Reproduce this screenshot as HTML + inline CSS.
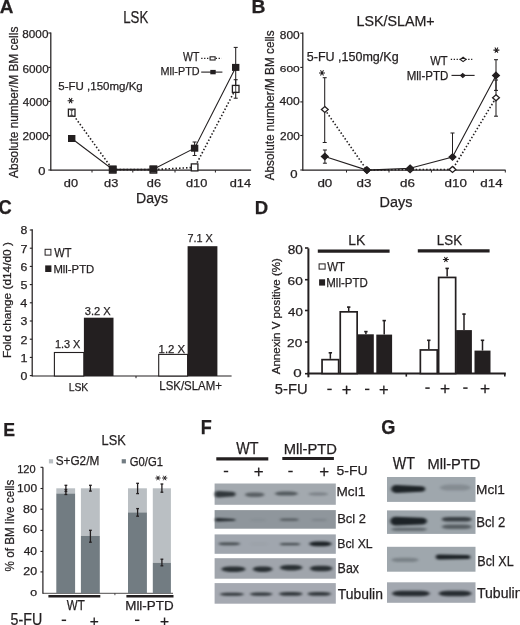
<!DOCTYPE html><html><head><meta charset="utf-8"><style>html,body{margin:0;padding:0;background:#fff;overflow:hidden}svg{display:block}text{font-family:"Liberation Sans",sans-serif;fill:#231f20;stroke:#231f20;stroke-width:0.25px}</style></head><body>
<svg width="520" height="625" viewBox="0 0 520 625">
<defs><filter id="b1" color-interpolation-filters="sRGB" x="-20%" y="-100%" width="140%" height="300%"><feGaussianBlur stdDeviation="1.5 0.95"/></filter><filter id="soft" color-interpolation-filters="sRGB" x="0" y="0" width="100%" height="100%"><feGaussianBlur stdDeviation="0.3"/></filter></defs>
<rect width="520" height="625" fill="#fff"/>
<g id="all" filter="url(#soft)">
<text x="-0.37" y="12.80" font-size="18.99" textLength="13.69" lengthAdjust="spacingAndGlyphs" font-weight="bold">A</text>
<text x="123.24" y="23.24" font-size="15.92" textLength="24.99" lengthAdjust="spacingAndGlyphs">LSK</text>
<line x1="50.8" y1="32.5" x2="50.8" y2="170.8" stroke="#231f20" stroke-width="1.25"/>
<line x1="48.3" y1="33" x2="50.8" y2="33" stroke="#231f20" stroke-width="1.1"/>
<line x1="48.3" y1="67.4" x2="50.8" y2="67.4" stroke="#231f20" stroke-width="1.1"/>
<line x1="48.3" y1="101.4" x2="50.8" y2="101.4" stroke="#231f20" stroke-width="1.1"/>
<line x1="48.3" y1="135.6" x2="50.8" y2="135.6" stroke="#231f20" stroke-width="1.1"/>
<line x1="48.3" y1="170" x2="50.8" y2="170" stroke="#231f20" stroke-width="1.1"/>
<text x="22.37" y="37.79" font-size="11.27" textLength="26.03" lengthAdjust="spacingAndGlyphs">8000</text>
<text x="22.51" y="72.78" font-size="11.55" textLength="26.20" lengthAdjust="spacingAndGlyphs">6000</text>
<text x="22.87" y="105.98" font-size="11.55" textLength="25.84" lengthAdjust="spacingAndGlyphs">4000</text>
<text x="22.51" y="140.38" font-size="11.55" textLength="26.20" lengthAdjust="spacingAndGlyphs">2000</text>
<text x="38.18" y="174.79" font-size="10.99" textLength="7.18" lengthAdjust="spacingAndGlyphs">0</text>
<text x="18.38" y="177.90" font-size="11.97" textLength="151.24" lengthAdjust="spacingAndGlyphs" transform="rotate(-90 18.38 177.90)">Absolute number/M BM cells</text>
<line x1="50.8" y1="170.2" x2="251.1" y2="170.2" stroke="#231f20" stroke-width="1.2"/>
<line x1="92" y1="170.2" x2="92" y2="172.5" stroke="#231f20" stroke-width="1"/>
<line x1="132.8" y1="170.2" x2="132.8" y2="172.5" stroke="#231f20" stroke-width="1"/>
<line x1="175" y1="170.2" x2="175" y2="172.5" stroke="#231f20" stroke-width="1"/>
<line x1="215.4" y1="170.2" x2="215.4" y2="172.5" stroke="#231f20" stroke-width="1"/>
<text x="63.88" y="186.59" font-size="11.16" textLength="14.21" lengthAdjust="spacingAndGlyphs">d0</text>
<text x="104.11" y="186.59" font-size="11.16" textLength="14.21" lengthAdjust="spacingAndGlyphs">d3</text>
<text x="146.81" y="186.59" font-size="11.16" textLength="14.21" lengthAdjust="spacingAndGlyphs">d6</text>
<text x="186.03" y="186.59" font-size="11.16" textLength="21.32" lengthAdjust="spacingAndGlyphs">d10</text>
<text x="229.70" y="186.59" font-size="11.16" textLength="21.32" lengthAdjust="spacingAndGlyphs">d14</text>
<text x="136.07" y="203.00" font-size="14.93" textLength="32.10" lengthAdjust="spacingAndGlyphs">Days</text>
<text x="58.24" y="89.90" font-size="11.31" textLength="84.53" lengthAdjust="spacingAndGlyphs">5-FU ,150mg/Kg</text>
<path d="M71.7,112.7 L112.7,169.6 L153.4,169.6 L194.6,167.4 L235.7,88.9" fill="none" stroke="#231f20" stroke-width="1.6" stroke-dasharray="1.5 2.0"/>
<path d="M71.7,138.5 L112.7,169.4 L153.4,169.2 L194.6,148.2 L235.7,67.4" fill="none" stroke="#231f20" stroke-width="1.1"/>
<line x1="235.7" y1="47.4" x2="235.7" y2="87.4" stroke="#231f20" stroke-width="1.05"/>
<line x1="233.7" y1="47.4" x2="237.7" y2="47.4" stroke="#231f20" stroke-width="1.05"/>
<line x1="233.7" y1="87.4" x2="237.7" y2="87.4" stroke="#231f20" stroke-width="1.05"/>
<line x1="235.7" y1="79.7" x2="235.7" y2="98.2" stroke="#231f20" stroke-width="1.05"/>
<line x1="233.7" y1="79.7" x2="237.7" y2="79.7" stroke="#231f20" stroke-width="1.05"/>
<line x1="233.7" y1="98.2" x2="237.7" y2="98.2" stroke="#231f20" stroke-width="1.05"/>
<line x1="194.6" y1="142" x2="194.6" y2="155.5" stroke="#231f20" stroke-width="1.05"/>
<line x1="192.6" y1="142" x2="196.6" y2="142" stroke="#231f20" stroke-width="1.05"/>
<line x1="192.6" y1="155.5" x2="196.6" y2="155.5" stroke="#231f20" stroke-width="1.05"/>
<rect x="68.40" y="109.20" width="6.60" height="7.00" fill="#fff" stroke="#231f20" stroke-width="1.3"/>
<rect x="109.40" y="166.10" width="6.60" height="7.00" fill="#fff" stroke="#231f20" stroke-width="1.3"/>
<rect x="150.10" y="166.10" width="6.60" height="7.00" fill="#fff" stroke="#231f20" stroke-width="1.3"/>
<rect x="191.30" y="163.90" width="6.60" height="7.00" fill="#fff" stroke="#231f20" stroke-width="1.3"/>
<rect x="232.40" y="85.40" width="6.60" height="7.00" fill="#fff" stroke="#231f20" stroke-width="1.3"/>
<line x1="71.7" y1="110.3" x2="71.7" y2="115.3" stroke="#231f20" stroke-width="0.8"/>
<line x1="70.3" y1="110.3" x2="73.10000000000001" y2="110.3" stroke="#231f20" stroke-width="0.8"/>
<line x1="70.3" y1="115.3" x2="73.10000000000001" y2="115.3" stroke="#231f20" stroke-width="0.8"/>
<line x1="235.7" y1="85.5" x2="235.7" y2="92.3" stroke="#231f20" stroke-width="0.8"/>
<line x1="234.29999999999998" y1="85.5" x2="237.1" y2="85.5" stroke="#231f20" stroke-width="0.8"/>
<line x1="234.29999999999998" y1="92.3" x2="237.1" y2="92.3" stroke="#231f20" stroke-width="0.8"/>
<rect x="68.00" y="135.00" width="7.40" height="7.00" fill="#231f20"/>
<rect x="109.00" y="165.90" width="7.40" height="7.00" fill="#231f20"/>
<rect x="149.70" y="165.70" width="7.40" height="7.00" fill="#231f20"/>
<rect x="190.90" y="144.70" width="7.40" height="7.00" fill="#231f20"/>
<rect x="232.00" y="63.90" width="7.40" height="7.00" fill="#231f20"/>
<path d="M67.60,100.70 L73.60,100.70 M69.10,98.10 L72.10,103.30 M72.10,98.10 L69.10,103.30 " fill="none" stroke="#231f20" stroke-width="1.05"/>
<text x="183.05" y="61.00" font-size="12.17" textLength="16.26" lengthAdjust="spacingAndGlyphs">WT</text>
<text x="160.53" y="74.90" font-size="11.59" textLength="39.06" lengthAdjust="spacingAndGlyphs">Mll-PTD</text>
<line x1="201.2" y1="58.3" x2="221.6" y2="58.3" stroke="#231f20" stroke-width="1.3" stroke-dasharray="1.3 1.6"/>
<rect x="210.10" y="56.80" width="5.00" height="3.20" fill="#fff" stroke="#231f20" stroke-width="1.1"/>
<line x1="201.2" y1="72.1" x2="222.4" y2="72.1" stroke="#231f20" stroke-width="1.1"/>
<rect x="210.30" y="69.90" width="5.40" height="4.40" fill="#231f20"/>
<text x="251.54" y="13.40" font-size="17.83" textLength="13.97" lengthAdjust="spacingAndGlyphs" font-weight="bold">B</text>
<text x="356.56" y="25.74" font-size="15.51" textLength="78.16" lengthAdjust="spacingAndGlyphs">LSK/SLAM+</text>
<line x1="302.8" y1="32.5" x2="302.8" y2="170.8" stroke="#231f20" stroke-width="1.25"/>
<line x1="300.3" y1="33.2" x2="302.8" y2="33.2" stroke="#231f20" stroke-width="1.1"/>
<line x1="300.3" y1="67.4" x2="302.8" y2="67.4" stroke="#231f20" stroke-width="1.1"/>
<line x1="300.3" y1="101.9" x2="302.8" y2="101.9" stroke="#231f20" stroke-width="1.1"/>
<line x1="300.3" y1="135.5" x2="302.8" y2="135.5" stroke="#231f20" stroke-width="1.1"/>
<line x1="300.3" y1="170" x2="302.8" y2="170" stroke="#231f20" stroke-width="1.1"/>
<text x="279.86" y="39.29" font-size="10.85" textLength="19.90" lengthAdjust="spacingAndGlyphs">800</text>
<text x="279.80" y="71.90" font-size="9.86" textLength="19.96" lengthAdjust="spacingAndGlyphs">600</text>
<text x="279.56" y="105.29" font-size="10.85" textLength="20.21" lengthAdjust="spacingAndGlyphs">400</text>
<text x="280.11" y="139.89" font-size="10.85" textLength="19.64" lengthAdjust="spacingAndGlyphs">200</text>
<text x="290.38" y="177.59" font-size="10.99" textLength="7.30" lengthAdjust="spacingAndGlyphs">0</text>
<text x="273.87" y="180.30" font-size="12.65" textLength="149.94" lengthAdjust="spacingAndGlyphs" transform="rotate(-90 273.87 180.30)">Absolute number/M BM cells</text>
<line x1="302.8" y1="170.2" x2="505.6" y2="170.2" stroke="#231f20" stroke-width="1.2"/>
<line x1="346.5" y1="170.2" x2="346.5" y2="172.5" stroke="#231f20" stroke-width="1"/>
<line x1="389" y1="170.2" x2="389" y2="172.5" stroke="#231f20" stroke-width="1"/>
<line x1="431.4" y1="170.2" x2="431.4" y2="172.5" stroke="#231f20" stroke-width="1"/>
<line x1="473.5" y1="170.2" x2="473.5" y2="172.5" stroke="#231f20" stroke-width="1"/>
<line x1="505.3" y1="170.2" x2="505.3" y2="172.5" stroke="#231f20" stroke-width="1"/>
<text x="317.43" y="187.18" font-size="11.70" textLength="14.90" lengthAdjust="spacingAndGlyphs">d0</text>
<text x="356.56" y="187.18" font-size="11.70" textLength="14.90" lengthAdjust="spacingAndGlyphs">d3</text>
<text x="400.06" y="187.18" font-size="11.70" textLength="14.90" lengthAdjust="spacingAndGlyphs">d6</text>
<text x="444.61" y="187.18" font-size="11.70" textLength="22.36" lengthAdjust="spacingAndGlyphs">d10</text>
<text x="480.28" y="187.18" font-size="11.70" textLength="22.36" lengthAdjust="spacingAndGlyphs">d14</text>
<text x="379.55" y="207.40" font-size="15.22" textLength="32.83" lengthAdjust="spacingAndGlyphs">Days</text>
<text x="306.80" y="60.50" font-size="11.86" textLength="91.83" lengthAdjust="spacingAndGlyphs">5-FU ,150mg/Kg</text>
<path d="M324.8,109.5 L366.9,170.1 L410.1,169.6 L452.5,169.4 L496,97.8" fill="none" stroke="#231f20" stroke-width="1.6" stroke-dasharray="1.5 2.0"/>
<path d="M324.8,156.5 L366.9,170.1 L410.1,168.3 L452.5,157 L496,75.4" fill="none" stroke="#231f20" stroke-width="1.1"/>
<line x1="324.7" y1="77.7" x2="324.7" y2="142.5" stroke="#231f20" stroke-width="1.05"/>
<line x1="322.7" y1="77.7" x2="326.7" y2="77.7" stroke="#231f20" stroke-width="1.05"/>
<line x1="322.7" y1="142.5" x2="326.7" y2="142.5" stroke="#231f20" stroke-width="1.05"/>
<line x1="324.9" y1="150" x2="324.9" y2="163.2" stroke="#231f20" stroke-width="1.05"/>
<line x1="322.9" y1="150" x2="326.9" y2="150" stroke="#231f20" stroke-width="1.05"/>
<line x1="322.9" y1="163.2" x2="326.9" y2="163.2" stroke="#231f20" stroke-width="1.05"/>
<line x1="452.5" y1="133" x2="452.5" y2="157" stroke="#231f20" stroke-width="1.05"/>
<line x1="450.5" y1="133" x2="454.5" y2="133" stroke="#231f20" stroke-width="1.05"/>
<line x1="450.5" y1="157" x2="454.5" y2="157" stroke="#231f20" stroke-width="1.05"/>
<line x1="496" y1="59.7" x2="496" y2="90.4" stroke="#231f20" stroke-width="1.05"/>
<line x1="494.0" y1="59.7" x2="498.0" y2="59.7" stroke="#231f20" stroke-width="1.05"/>
<line x1="494.0" y1="90.4" x2="498.0" y2="90.4" stroke="#231f20" stroke-width="1.05"/>
<line x1="496" y1="80" x2="496" y2="116.2" stroke="#231f20" stroke-width="1.05"/>
<line x1="494.0" y1="80" x2="498.0" y2="80" stroke="#231f20" stroke-width="1.05"/>
<line x1="494.0" y1="116.2" x2="498.0" y2="116.2" stroke="#231f20" stroke-width="1.05"/>
<path d="M324.8,106.5 L328.2,109.5 L324.8,112.5 L321.40000000000003,109.5 Z" fill="#fff" stroke="#231f20" stroke-width="1.3"/>
<path d="M366.9,167.1 L370.29999999999995,170.1 L366.9,173.1 L363.5,170.1 Z" fill="#fff" stroke="#231f20" stroke-width="1.3"/>
<path d="M410.1,166.6 L413.5,169.6 L410.1,172.6 L406.70000000000005,169.6 Z" fill="#fff" stroke="#231f20" stroke-width="1.3"/>
<path d="M452.5,166.4 L455.9,169.4 L452.5,172.4 L449.1,169.4 Z" fill="#fff" stroke="#231f20" stroke-width="1.3"/>
<path d="M496,94.8 L499.4,97.8 L496,100.8 L492.6,97.8 Z" fill="#fff" stroke="#231f20" stroke-width="1.3"/>
<path d="M324.8,153.2 L328.3,156.5 L324.8,159.8 L321.3,156.5 Z" fill="#231f20" stroke="#231f20" stroke-width="1.1"/>
<path d="M366.9,166.79999999999998 L370.4,170.1 L366.9,173.4 L363.4,170.1 Z" fill="#231f20" stroke="#231f20" stroke-width="1.1"/>
<path d="M410.1,165.0 L413.6,168.3 L410.1,171.60000000000002 L406.6,168.3 Z" fill="#231f20" stroke="#231f20" stroke-width="1.1"/>
<path d="M452.5,153.7 L456.0,157 L452.5,160.3 L449.0,157 Z" fill="#231f20" stroke="#231f20" stroke-width="1.1"/>
<path d="M496,72.10000000000001 L499.5,75.4 L496,78.7 L492.5,75.4 Z" fill="#231f20" stroke="#231f20" stroke-width="1.1"/>
<path d="M319.00,72.90 L325.00,72.90 M320.50,70.30 L323.50,75.50 M323.50,70.30 L320.50,75.50 " fill="none" stroke="#231f20" stroke-width="1.05"/>
<path d="M493.40,50.10 L499.40,50.10 M494.90,47.50 L497.90,52.70 M497.90,47.50 L494.90,52.70 " fill="none" stroke="#231f20" stroke-width="1.05"/>
<text x="430.14" y="65.40" font-size="13.33" textLength="17.38" lengthAdjust="spacingAndGlyphs">WT</text>
<text x="406.68" y="80.20" font-size="11.86" textLength="41.65" lengthAdjust="spacingAndGlyphs">Mll-PTD</text>
<line x1="450.8" y1="59.4" x2="472.3" y2="59.4" stroke="#231f20" stroke-width="1.3" stroke-dasharray="1.3 1.6"/>
<path d="M463.1,57.199999999999996 L465.90000000000003,59.4 L463.1,61.6 L460.3,59.4 Z" fill="#fff" stroke="#231f20" stroke-width="1.2"/>
<line x1="451.5" y1="75.4" x2="474.6" y2="75.4" stroke="#231f20" stroke-width="1.1"/>
<path d="M462.8,73.6 L465.0,75.6 L462.8,77.6 L460.6,75.6 Z" fill="#231f20" stroke="#231f20" stroke-width="1.1"/>
<text x="-1.43" y="214.21" font-size="19.30" textLength="13.23" lengthAdjust="spacingAndGlyphs" font-weight="bold">C</text>
<line x1="32.2" y1="229.3" x2="32.2" y2="376.6" stroke="#231f20" stroke-width="1.25"/>
<line x1="29.8" y1="375.6" x2="32.2" y2="375.6" stroke="#231f20" stroke-width="1.1"/>
<text x="20.50" y="380.09" font-size="10.99" textLength="6.84" lengthAdjust="spacingAndGlyphs">0</text>
<line x1="29.8" y1="357.40000000000003" x2="32.2" y2="357.40000000000003" stroke="#231f20" stroke-width="1.1"/>
<text x="20.44" y="362.00" font-size="11.30" textLength="7.04" lengthAdjust="spacingAndGlyphs">1</text>
<line x1="29.8" y1="339.20000000000005" x2="32.2" y2="339.20000000000005" stroke="#231f20" stroke-width="1.1"/>
<text x="20.60" y="343.80" font-size="11.14" textLength="6.94" lengthAdjust="spacingAndGlyphs">2</text>
<line x1="29.8" y1="321.0" x2="32.2" y2="321.0" stroke="#231f20" stroke-width="1.1"/>
<text x="20.56" y="325.49" font-size="10.99" textLength="6.84" lengthAdjust="spacingAndGlyphs">3</text>
<line x1="29.8" y1="302.8" x2="32.2" y2="302.8" stroke="#231f20" stroke-width="1.1"/>
<text x="20.25" y="307.40" font-size="11.30" textLength="7.04" lengthAdjust="spacingAndGlyphs">4</text>
<line x1="29.8" y1="284.6" x2="32.2" y2="284.6" stroke="#231f20" stroke-width="1.1"/>
<text x="20.47" y="289.09" font-size="11.14" textLength="6.94" lengthAdjust="spacingAndGlyphs">5</text>
<line x1="29.8" y1="266.40000000000003" x2="32.2" y2="266.40000000000003" stroke="#231f20" stroke-width="1.1"/>
<text x="20.56" y="270.89" font-size="10.99" textLength="6.84" lengthAdjust="spacingAndGlyphs">6</text>
<line x1="29.8" y1="248.20000000000005" x2="32.2" y2="248.20000000000005" stroke="#231f20" stroke-width="1.1"/>
<text x="20.51" y="252.80" font-size="11.30" textLength="7.04" lengthAdjust="spacingAndGlyphs">7</text>
<line x1="29.8" y1="230.00000000000003" x2="32.2" y2="230.00000000000003" stroke="#231f20" stroke-width="1.1"/>
<text x="20.56" y="234.49" font-size="10.99" textLength="6.84" lengthAdjust="spacingAndGlyphs">8</text>
<text x="11.25" y="357.95" font-size="10.70" textLength="115.81" lengthAdjust="spacingAndGlyphs" transform="rotate(-90 11.25 357.95)">Fold change (d14/d0 )</text>
<line x1="32.2" y1="376" x2="231.6" y2="376" stroke="#231f20" stroke-width="1.2"/>
<line x1="136" y1="376" x2="136" y2="378.2" stroke="#231f20" stroke-width="1"/>
<rect x="54.40" y="352.50" width="29.40" height="23.50" fill="#fff" stroke="#231f20" stroke-width="1.1"/>
<rect x="83.90" y="317.70" width="29.60" height="58.30" fill="#231f20"/>
<rect x="158.70" y="354.40" width="28.90" height="21.60" fill="#fff" stroke="#231f20" stroke-width="1.1"/>
<rect x="187.60" y="246.20" width="29.80" height="129.80" fill="#231f20"/>
<text x="54.88" y="347.99" font-size="11.13" textLength="25.54" lengthAdjust="spacingAndGlyphs">1.3 X</text>
<text x="84.76" y="315.39" font-size="11.13" textLength="25.97" lengthAdjust="spacingAndGlyphs">3.2 X</text>
<text x="158.55" y="352.70" font-size="11.57" textLength="26.58" lengthAdjust="spacingAndGlyphs">1.2 X</text>
<text x="187.45" y="242.10" font-size="11.45" textLength="25.46" lengthAdjust="spacingAndGlyphs">7.1 X</text>
<text x="68.67" y="390.79" font-size="11.27" textLength="19.64" lengthAdjust="spacingAndGlyphs">LSK</text>
<text x="159.28" y="390.17" font-size="13.06" textLength="62.69" lengthAdjust="spacingAndGlyphs">LSK/SLAM+</text>
<rect x="45.10" y="249.30" width="5.80" height="5.80" fill="#fff" stroke="#231f20" stroke-width="1.0"/>
<text x="54.24" y="256.80" font-size="11.88" textLength="17.17" lengthAdjust="spacingAndGlyphs">WT</text>
<rect x="45.20" y="265.40" width="6.20" height="6.60" fill="#231f20"/>
<text x="53.40" y="273.00" font-size="11.45" textLength="40.82" lengthAdjust="spacingAndGlyphs">Mll-PTD</text>
<text x="254.80" y="214.10" font-size="18.70" textLength="13.39" lengthAdjust="spacingAndGlyphs" font-weight="bold">D</text>
<line x1="308.4" y1="248.4" x2="308.4" y2="377.3" stroke="#231f20" stroke-width="2"/>
<line x1="305" y1="248" x2="308.4" y2="248" stroke="#231f20" stroke-width="1.6"/>
<line x1="305" y1="279.7" x2="308.4" y2="279.7" stroke="#231f20" stroke-width="1.6"/>
<line x1="305" y1="310.5" x2="308.4" y2="310.5" stroke="#231f20" stroke-width="1.6"/>
<line x1="305" y1="342" x2="308.4" y2="342" stroke="#231f20" stroke-width="1.6"/>
<line x1="305" y1="373.7" x2="308.4" y2="373.7" stroke="#231f20" stroke-width="1.6"/>
<text x="287.69" y="254.08" font-size="11.97" textLength="15.12" lengthAdjust="spacingAndGlyphs">80</text>
<text x="287.62" y="284.89" font-size="11.13" textLength="15.19" lengthAdjust="spacingAndGlyphs">60</text>
<text x="288.03" y="315.79" font-size="10.85" textLength="14.76" lengthAdjust="spacingAndGlyphs">40</text>
<text x="287.12" y="346.98" font-size="11.83" textLength="15.08" lengthAdjust="spacingAndGlyphs">20</text>
<text x="293.19" y="377.18" font-size="11.83" textLength="8.46" lengthAdjust="spacingAndGlyphs">0</text>
<text x="280.50" y="374.30" font-size="11.44" textLength="116.15" lengthAdjust="spacingAndGlyphs" transform="rotate(-90 280.50 374.30)">Annexin V positive (%)</text>
<line x1="307.4" y1="373.5" x2="505.8" y2="373.5" stroke="#231f20" stroke-width="2"/>
<line x1="406.3" y1="373.5" x2="406.3" y2="376.6" stroke="#231f20" stroke-width="1.6"/>
<line x1="504.8" y1="373.5" x2="504.8" y2="376.6" stroke="#231f20" stroke-width="1.6"/>
<line x1="317.8" y1="251.1" x2="389.6" y2="251.1" stroke="#231f20" stroke-width="3.2"/>
<line x1="417.8" y1="250.9" x2="489.6" y2="250.9" stroke="#231f20" stroke-width="3.2"/>
<text x="348.18" y="245.10" font-size="14.93" textLength="17.10" lengthAdjust="spacingAndGlyphs">LK</text>
<text x="436.83" y="245.25" font-size="14.93" textLength="25.31" lengthAdjust="spacingAndGlyphs">LSK</text>
<line x1="330.35" y1="352.5" x2="330.35" y2="358.8" stroke="#231f20" stroke-width="1.5"/>
<line x1="328.65000000000003" y1="352.8" x2="332.05" y2="352.8" stroke="#231f20" stroke-width="1.6"/>
<rect x="322.05" y="359.65" width="16.60" height="13.85" fill="#fff" stroke="#231f20" stroke-width="1.7"/>
<line x1="348.7" y1="306.8" x2="348.7" y2="311" stroke="#231f20" stroke-width="1.5"/>
<line x1="347.0" y1="307.1" x2="350.4" y2="307.1" stroke="#231f20" stroke-width="1.6"/>
<rect x="340.25" y="311.85" width="16.90" height="61.65" fill="#fff" stroke="#231f20" stroke-width="1.7"/>
<line x1="365.9" y1="331.3" x2="365.9" y2="334.3" stroke="#231f20" stroke-width="1.5"/>
<line x1="364.2" y1="331.6" x2="367.59999999999997" y2="331.6" stroke="#231f20" stroke-width="1.6"/>
<rect x="358.00" y="334.30" width="15.80" height="39.20" fill="#231f20"/>
<line x1="384.20000000000005" y1="320.3" x2="384.20000000000005" y2="334.6" stroke="#231f20" stroke-width="1.5"/>
<line x1="382.50000000000006" y1="320.6" x2="385.90000000000003" y2="320.6" stroke="#231f20" stroke-width="1.6"/>
<rect x="376.30" y="334.60" width="15.80" height="38.90" fill="#231f20"/>
<line x1="428.8" y1="340" x2="428.8" y2="349.1" stroke="#231f20" stroke-width="1.5"/>
<line x1="427.1" y1="340.3" x2="430.5" y2="340.3" stroke="#231f20" stroke-width="1.6"/>
<rect x="420.35" y="349.95" width="16.90" height="23.55" fill="#fff" stroke="#231f20" stroke-width="1.7"/>
<line x1="447.15" y1="268.1" x2="447.15" y2="276.6" stroke="#231f20" stroke-width="1.5"/>
<line x1="445.45" y1="268.40000000000003" x2="448.84999999999997" y2="268.40000000000003" stroke="#231f20" stroke-width="1.6"/>
<rect x="438.65" y="277.45" width="17.00" height="96.05" fill="#fff" stroke="#231f20" stroke-width="1.7"/>
<line x1="464.0" y1="313.8" x2="464.0" y2="330.1" stroke="#231f20" stroke-width="1.5"/>
<line x1="462.3" y1="314.1" x2="465.7" y2="314.1" stroke="#231f20" stroke-width="1.6"/>
<rect x="456.10" y="330.10" width="15.80" height="43.40" fill="#231f20"/>
<line x1="482.5" y1="340" x2="482.5" y2="350.6" stroke="#231f20" stroke-width="1.5"/>
<line x1="480.8" y1="340.3" x2="484.2" y2="340.3" stroke="#231f20" stroke-width="1.6"/>
<rect x="474.50" y="350.60" width="16.00" height="22.90" fill="#231f20"/>
<path d="M442.90,259.50 L448.90,259.50 M444.40,256.90 L447.40,262.10 M447.40,256.90 L444.40,262.10 " fill="none" stroke="#231f20" stroke-width="1.05"/>
<rect x="319.10" y="263.90" width="6.00" height="5.20" fill="#fff" stroke="#231f20" stroke-width="1.0"/>
<text x="327.14" y="271.40" font-size="12.90" textLength="17.78" lengthAdjust="spacingAndGlyphs">WT</text>
<rect x="319.10" y="279.30" width="6.00" height="6.30" fill="#231f20"/>
<text x="326.28" y="286.90" font-size="12.14" textLength="41.44" lengthAdjust="spacingAndGlyphs">Mll-PTD</text>
<text x="274.81" y="394.45" font-size="14.57" textLength="32.73" lengthAdjust="spacingAndGlyphs">5-FU</text>
<rect x="327.30" y="388.65" width="4.40" height="1.50" fill="#231f20"/>
<text x="341.66" y="395.19" font-size="16.53" textLength="9.65" lengthAdjust="spacingAndGlyphs">+</text>
<rect x="365.00" y="388.65" width="4.40" height="1.50" fill="#231f20"/>
<text x="379.06" y="395.19" font-size="16.53" textLength="9.65" lengthAdjust="spacingAndGlyphs">+</text>
<rect x="425.30" y="387.35" width="4.40" height="1.50" fill="#231f20"/>
<text x="439.93" y="394.46" font-size="17.35" textLength="10.13" lengthAdjust="spacingAndGlyphs">+</text>
<rect x="463.20" y="387.35" width="4.40" height="1.50" fill="#231f20"/>
<text x="480.03" y="394.46" font-size="17.35" textLength="10.13" lengthAdjust="spacingAndGlyphs">+</text>
<text x="3.35" y="435.70" font-size="18.70" textLength="11.81" lengthAdjust="spacingAndGlyphs" font-weight="bold">E</text>
<text x="101.58" y="444.86" font-size="13.80" textLength="24.15" lengthAdjust="spacingAndGlyphs">LSK</text>
<rect x="48.90" y="459.20" width="4.20" height="4.20" fill="#babfc3"/>
<text x="55.67" y="465.27" font-size="12.52" textLength="43.58" lengthAdjust="spacingAndGlyphs">S+G2/M</text>
<rect x="121.70" y="459.20" width="4.20" height="4.20" fill="#727c82"/>
<text x="129.74" y="465.58" font-size="12.11" textLength="33.28" lengthAdjust="spacingAndGlyphs">G0/G1</text>
<line x1="42.9" y1="467.2" x2="42.9" y2="593.8" stroke="#231f20" stroke-width="1.2"/>
<line x1="40.5" y1="467.3" x2="42.9" y2="467.3" stroke="#231f20" stroke-width="1.1"/>
<line x1="40.5" y1="488.5" x2="42.9" y2="488.5" stroke="#231f20" stroke-width="1.1"/>
<line x1="40.5" y1="509.2" x2="42.9" y2="509.2" stroke="#231f20" stroke-width="1.1"/>
<line x1="40.5" y1="530.4" x2="42.9" y2="530.4" stroke="#231f20" stroke-width="1.1"/>
<line x1="40.5" y1="551.4" x2="42.9" y2="551.4" stroke="#231f20" stroke-width="1.1"/>
<line x1="40.5" y1="571.9" x2="42.9" y2="571.9" stroke="#231f20" stroke-width="1.1"/>
<text x="17.18" y="473.09" font-size="10.56" textLength="18.35" lengthAdjust="spacingAndGlyphs">120</text>
<text x="17.10" y="491.89" font-size="11.13" textLength="19.96" lengthAdjust="spacingAndGlyphs">100</text>
<text x="23.14" y="512.69" font-size="11.13" textLength="13.93" lengthAdjust="spacingAndGlyphs">80</text>
<text x="23.07" y="533.49" font-size="11.13" textLength="14.00" lengthAdjust="spacingAndGlyphs">60</text>
<text x="23.66" y="555.20" font-size="10.00" textLength="13.39" lengthAdjust="spacingAndGlyphs">40</text>
<text x="23.28" y="575.20" font-size="10.28" textLength="13.78" lengthAdjust="spacingAndGlyphs">20</text>
<text x="30.21" y="596.30" font-size="9.72" textLength="6.84" lengthAdjust="spacingAndGlyphs">0</text>
<text x="13.97" y="571.51" font-size="12.65" textLength="91.83" lengthAdjust="spacingAndGlyphs" transform="rotate(-90 13.97 571.51)">% of BM live cells</text>
<line x1="42.9" y1="593.3" x2="173" y2="593.3" stroke="#231f20" stroke-width="0.8"/>
<line x1="114.9" y1="593.3" x2="114.9" y2="595.2" stroke="#231f20" stroke-width="0.8"/>
<rect x="56.30" y="488.30" width="18.80" height="5.20" fill="#babfc3"/>
<rect x="56.30" y="493.50" width="18.80" height="99.80" fill="#727c82"/>
<rect x="80.90" y="488.30" width="18.90" height="47.60" fill="#babfc3"/>
<rect x="80.90" y="535.90" width="18.90" height="57.40" fill="#727c82"/>
<rect x="128.00" y="488.30" width="18.90" height="24.10" fill="#babfc3"/>
<rect x="128.00" y="512.40" width="18.90" height="80.90" fill="#727c82"/>
<rect x="152.80" y="488.30" width="18.10" height="74.50" fill="#babfc3"/>
<rect x="152.80" y="562.80" width="18.10" height="30.50" fill="#727c82"/>
<line x1="65.9" y1="485.3" x2="65.9" y2="491.5" stroke="#231f20" stroke-width="1.3"/>
<line x1="64.5" y1="485.3" x2="67.30000000000001" y2="485.3" stroke="#231f20" stroke-width="1.3"/>
<line x1="64.5" y1="491.5" x2="67.30000000000001" y2="491.5" stroke="#231f20" stroke-width="1.3"/>
<line x1="65.9" y1="489.5" x2="65.9" y2="494.5" stroke="#231f20" stroke-width="1.3"/>
<line x1="64.5" y1="489.5" x2="67.30000000000001" y2="489.5" stroke="#231f20" stroke-width="1.3"/>
<line x1="64.5" y1="494.5" x2="67.30000000000001" y2="494.5" stroke="#231f20" stroke-width="1.3"/>
<line x1="90.4" y1="485.3" x2="90.4" y2="491.1" stroke="#231f20" stroke-width="1.3"/>
<line x1="89.0" y1="485.3" x2="91.80000000000001" y2="485.3" stroke="#231f20" stroke-width="1.3"/>
<line x1="89.0" y1="491.1" x2="91.80000000000001" y2="491.1" stroke="#231f20" stroke-width="1.3"/>
<line x1="90.4" y1="530.3" x2="90.4" y2="542.2" stroke="#231f20" stroke-width="1.3"/>
<line x1="89.0" y1="530.3" x2="91.80000000000001" y2="530.3" stroke="#231f20" stroke-width="1.3"/>
<line x1="89.0" y1="542.2" x2="91.80000000000001" y2="542.2" stroke="#231f20" stroke-width="1.3"/>
<line x1="137.6" y1="483.3" x2="137.6" y2="493.6" stroke="#231f20" stroke-width="1.3"/>
<line x1="136.2" y1="483.3" x2="139.0" y2="483.3" stroke="#231f20" stroke-width="1.3"/>
<line x1="136.2" y1="493.6" x2="139.0" y2="493.6" stroke="#231f20" stroke-width="1.3"/>
<line x1="137.6" y1="508.6" x2="137.6" y2="516.2" stroke="#231f20" stroke-width="1.3"/>
<line x1="136.2" y1="508.6" x2="139.0" y2="508.6" stroke="#231f20" stroke-width="1.3"/>
<line x1="136.2" y1="516.2" x2="139.0" y2="516.2" stroke="#231f20" stroke-width="1.3"/>
<line x1="161.9" y1="484" x2="161.9" y2="492.2" stroke="#231f20" stroke-width="1.3"/>
<line x1="160.5" y1="484" x2="163.3" y2="484" stroke="#231f20" stroke-width="1.3"/>
<line x1="160.5" y1="492.2" x2="163.3" y2="492.2" stroke="#231f20" stroke-width="1.3"/>
<line x1="161.9" y1="559.2" x2="161.9" y2="565.8" stroke="#231f20" stroke-width="1.3"/>
<line x1="160.5" y1="559.2" x2="163.3" y2="559.2" stroke="#231f20" stroke-width="1.3"/>
<line x1="160.5" y1="565.8" x2="163.3" y2="565.8" stroke="#231f20" stroke-width="1.3"/>
<path d="M155.40,478.00 L160.60,478.00 M156.70,475.75 L159.30,480.25 M159.30,475.75 L156.70,480.25 " fill="none" stroke="#231f20" stroke-width="0.95"/>
<path d="M162.10,478.00 L167.30,478.00 M163.40,475.75 L166.00,480.25 M166.00,475.75 L163.40,480.25 " fill="none" stroke="#231f20" stroke-width="0.95"/>
<line x1="48.4" y1="596.3" x2="100.3" y2="596.3" stroke="#231f20" stroke-width="2.4"/>
<line x1="126.4" y1="596.3" x2="173.5" y2="596.3" stroke="#231f20" stroke-width="2.4"/>
<text x="66.74" y="609.60" font-size="13.91" textLength="17.99" lengthAdjust="spacingAndGlyphs">WT</text>
<text x="125.23" y="609.60" font-size="13.24" textLength="48.38" lengthAdjust="spacingAndGlyphs">Mll-PTD</text>
<text x="10.6" y="625.4" font-size="16.3" textLength="31.6" lengthAdjust="spacingAndGlyphs">5-FU</text>
<rect x="61.70" y="619.55" width="4.40" height="1.50" fill="#231f20"/>
<text x="89.66" y="625.70" font-size="15.51" textLength="9.06" lengthAdjust="spacingAndGlyphs">+</text>
<rect x="135.00" y="619.55" width="4.40" height="1.50" fill="#231f20"/>
<text x="159.96" y="625.70" font-size="15.51" textLength="9.06" lengthAdjust="spacingAndGlyphs">+</text>
<text x="200.63" y="434.10" font-size="19.42" textLength="11.02" lengthAdjust="spacingAndGlyphs" font-weight="bold">F</text>
<text x="236.13" y="454.40" font-size="15.65" textLength="22.25" lengthAdjust="spacingAndGlyphs">WT</text>
<text x="283.72" y="454.30" font-size="14.21" textLength="53.25" lengthAdjust="spacingAndGlyphs">Mll-PTD</text>
<line x1="216.3" y1="458.9" x2="268.3" y2="458.9" stroke="#231f20" stroke-width="3.2"/>
<line x1="282.3" y1="458.5" x2="333.9" y2="458.5" stroke="#231f20" stroke-width="3.2"/>
<rect x="223.80" y="470.75" width="4.40" height="1.50" fill="#231f20"/>
<text x="253.85" y="477.22" font-size="16.94" textLength="9.89" lengthAdjust="spacingAndGlyphs">+</text>
<rect x="288.30" y="470.75" width="4.40" height="1.50" fill="#231f20"/>
<text x="319.25" y="477.22" font-size="16.94" textLength="9.89" lengthAdjust="spacingAndGlyphs">+</text>
<text x="336.54" y="475.17" font-size="13.29" textLength="31.04" lengthAdjust="spacingAndGlyphs">5-FU</text>
<rect x="214.60" y="483.50" width="121.20" height="21.30" fill="#a3a9af"/>
<rect x="214.60" y="510.10" width="121.20" height="18.60" fill="#8f969c"/>
<rect x="214.60" y="534.40" width="121.20" height="19.40" fill="#a0a6ae"/>
<rect x="214.60" y="558.20" width="121.20" height="20.50" fill="#a0a5ac"/>
<rect x="214.60" y="583.10" width="121.20" height="20.60" fill="#a5a9b1"/>
<text x="336.51" y="495.97" font-size="13.33" textLength="28.72" lengthAdjust="spacingAndGlyphs">Mcl1</text>
<text x="337.16" y="523.47" font-size="13.33" textLength="28.83" lengthAdjust="spacingAndGlyphs">Bcl 2</text>
<text x="337.22" y="547.77" font-size="13.33" textLength="35.45" lengthAdjust="spacingAndGlyphs">Bcl XL</text>
<text x="337.61" y="572.56" font-size="14.00" textLength="21.40" lengthAdjust="spacingAndGlyphs">Bax</text>
<text x="337.82" y="598.96" font-size="13.88" textLength="45.12" lengthAdjust="spacingAndGlyphs">Tubulin</text>
<g filter="url(#b1)">
<path d="M218.50,490.90 L231.84,491.71 A3.66,2.44 0 0 1 231.84,496.59 L218.50,497.40 A3.90,3.25 0 0 1 218.50,490.90 Z" fill="#1d2327" fill-opacity="0.85"/>
<rect x="245.20" y="492.40" width="19.00" height="4.60" rx="6.33" ry="2.30" fill="#1d2327" fill-opacity="0.55"/>
<rect x="274.80" y="491.60" width="23.20" height="4.00" rx="7.73" ry="2.00" fill="#1d2327" fill-opacity="0.6"/>
<rect x="308.50" y="492.60" width="19.50" height="2.90" rx="5.80" ry="1.45" fill="#1d2327" fill-opacity="0.3"/>
<path d="M217.16,518.00 L234.05,518.90 A1.35,0.90 0 0 1 234.05,520.70 L217.16,521.60 A2.16,1.80 0 0 1 217.16,518.00 Z" fill="#1d2327" fill-opacity="0.95"/>
<rect x="250.00" y="519.20" width="16.00" height="1.60" rx="3.20" ry="0.80" fill="#1d2327" fill-opacity="0.1"/>
<rect x="280.00" y="518.60" width="18.50" height="2.20" rx="4.40" ry="1.10" fill="#1d2327" fill-opacity="0.55"/>
<rect x="311.50" y="519.10" width="15.50" height="1.60" rx="3.20" ry="0.80" fill="#1d2327" fill-opacity="0.18"/>
<rect x="218.50" y="542.50" width="21.50" height="2.70" rx="5.40" ry="1.35" fill="#1d2327" fill-opacity="0.7"/>
<rect x="250.00" y="543.20" width="18.00" height="1.60" rx="3.20" ry="0.80" fill="#1d2327" fill-opacity="0.06"/>
<rect x="280.00" y="543.10" width="20.00" height="2.20" rx="4.40" ry="1.10" fill="#1d2327" fill-opacity="0.7"/>
<rect x="309.20" y="541.50" width="22.30" height="4.70" rx="7.05" ry="2.35" fill="#1d2327" fill-opacity="1.0"/>
<rect x="221.50" y="566.50" width="23.90" height="5.40" rx="7.97" ry="2.70" fill="#1d2327" fill-opacity="0.9"/>
<rect x="253.00" y="566.50" width="19.30" height="5.40" rx="6.43" ry="2.70" fill="#1d2327" fill-opacity="0.9"/>
<rect x="280.00" y="565.00" width="22.30" height="5.40" rx="7.43" ry="2.70" fill="#1d2327" fill-opacity="0.9"/>
<rect x="310.00" y="565.80" width="22.30" height="5.40" rx="7.43" ry="2.70" fill="#1d2327" fill-opacity="0.9"/>
<rect x="220.00" y="592.70" width="23.80" height="3.10" rx="6.20" ry="1.55" fill="#1d2327" fill-opacity="0.85"/>
<rect x="250.00" y="592.50" width="22.30" height="3.20" rx="6.40" ry="1.60" fill="#1d2327" fill-opacity="0.85"/>
<rect x="279.20" y="592.00" width="23.10" height="3.80" rx="7.60" ry="1.90" fill="#1d2327" fill-opacity="0.85"/>
<rect x="307.70" y="592.00" width="23.10" height="3.80" rx="7.60" ry="1.90" fill="#1d2327" fill-opacity="0.85"/>
</g>
<text x="381.37" y="434.21" font-size="19.30" textLength="14.17" lengthAdjust="spacingAndGlyphs" font-weight="bold">G</text>
<text x="392.83" y="468.60" font-size="15.94" textLength="22.15" lengthAdjust="spacingAndGlyphs">WT</text>
<text x="427.43" y="468.90" font-size="14.76" textLength="52.94" lengthAdjust="spacingAndGlyphs">Mll-PTD</text>
<rect x="387.00" y="477.00" width="88.50" height="24.90" fill="#9fa7ad"/>
<rect x="387.00" y="510.40" width="88.50" height="23.50" fill="#9da5ab"/>
<rect x="387.00" y="546.80" width="88.50" height="24.90" fill="#9fa7ad"/>
<rect x="387.00" y="582.30" width="88.50" height="20.50" fill="#a3a8b0"/>
<text x="476.11" y="493.77" font-size="13.33" textLength="28.83" lengthAdjust="spacingAndGlyphs">Mcl1</text>
<text x="476.15" y="527.45" font-size="14.56" textLength="29.25" lengthAdjust="spacingAndGlyphs">Bcl 2</text>
<text x="477.29" y="565.76" font-size="14.01" textLength="36.39" lengthAdjust="spacingAndGlyphs">Bcl XL</text>
<text x="476.92" y="597.66" font-size="14.01" textLength="45.64" lengthAdjust="spacingAndGlyphs">Tubulin</text>
<g filter="url(#b1)">
<path d="M395.94,485.00 L421.05,486.19 A4.15,2.76 0 0 1 421.05,491.71 L395.94,492.90 A4.74,3.95 0 0 1 395.94,485.00 Z" fill="#1d2327" fill-opacity="1.0"/>
<rect x="439.90" y="484.60" width="30.80" height="5.90" rx="10.27" ry="2.95" fill="#1d2327" fill-opacity="0.2"/>
<path d="M395.58,516.70 L422.05,517.80 A4.95,3.30 0 0 1 422.05,524.40 L395.58,525.50 A5.28,4.40 0 0 1 395.58,516.70 Z" fill="#1d2327" fill-opacity="1.0"/>
<rect x="391.40" y="527.40" width="35.40" height="3.50" rx="7.00" ry="1.75" fill="#1d2327" fill-opacity="0.45"/>
<rect x="441.80" y="516.90" width="29.80" height="4.70" rx="7.05" ry="2.35" fill="#1d2327" fill-opacity="0.78"/>
<rect x="441.80" y="524.50" width="29.80" height="4.50" rx="6.75" ry="2.25" fill="#1d2327" fill-opacity="0.55"/>
<rect x="391.50" y="557.70" width="27.00" height="4.40" rx="8.80" ry="2.20" fill="#1d2327" fill-opacity="0.28"/>
<path d="M438.68,554.60 L467.34,554.96 A3.06,2.04 0 0 1 467.34,559.04 L438.68,559.40 A2.88,2.40 0 0 1 438.68,554.60 Z" fill="#1d2327" fill-opacity="1.0"/>
<rect x="392.00" y="590.80" width="37.80" height="5.50" rx="8.80" ry="2.75" fill="#1d2327" fill-opacity="0.92"/>
<rect x="438.70" y="590.80" width="32.80" height="5.50" rx="8.80" ry="2.75" fill="#1d2327" fill-opacity="0.92"/>
</g>
</g></svg></body></html>
